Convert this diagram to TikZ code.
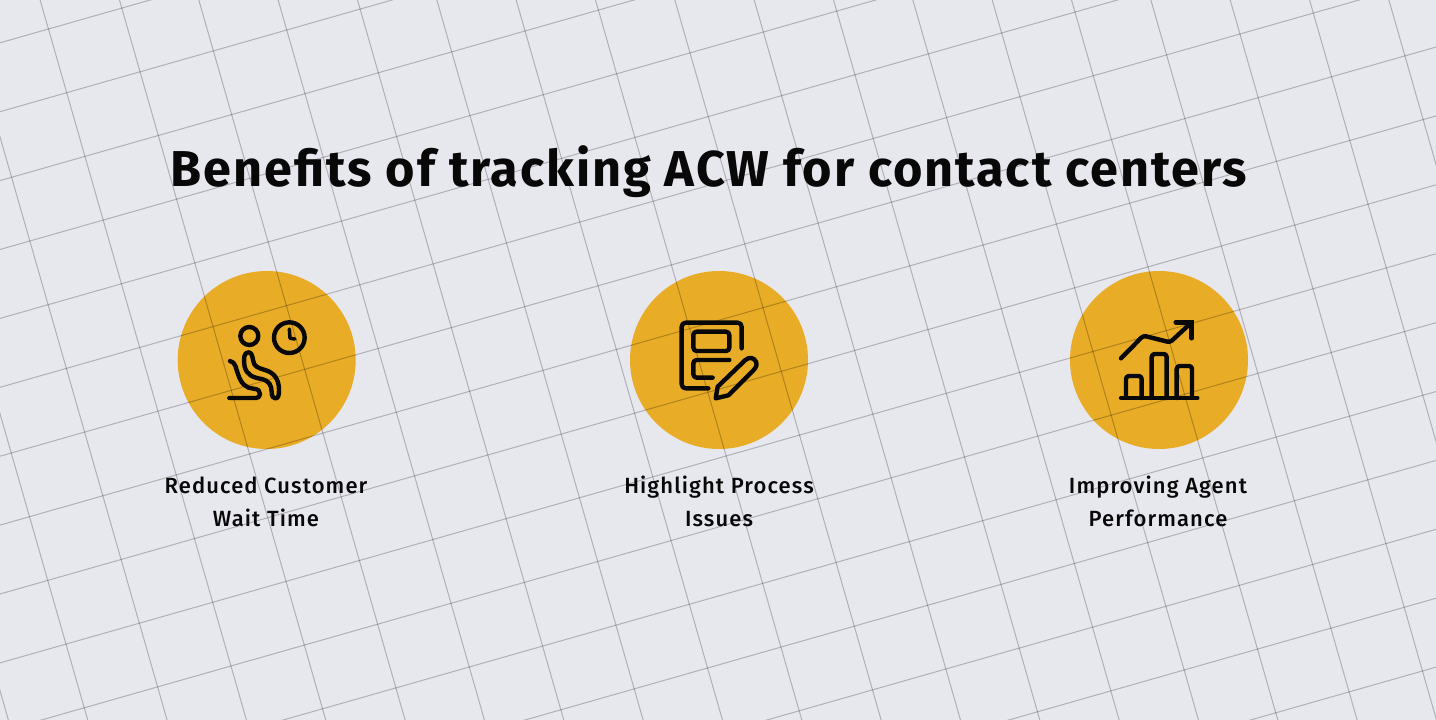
\documentclass[tikz,border=0pt]{standalone}
\usepackage{fontspec}
\setmainfont{Fira Sans}[LetterSpace=3.8]
\newfontfamily\labfont{Fira Sans Medium}[LetterSpace=5]
\definecolor{ink}{RGB}{8,8,8}
\definecolor{bgpaper}{RGB}{231,231,238}
\definecolor{disc}{RGB}{232,172,38}
\tikzset{
  discnode/.style={circle,fill=disc,draw=none,minimum size=178*0.75pt,inner sep=0pt},
  gridline/.style={black,opacity=.24,line width=.75pt},
  iconline/.style={ink,line width=3.3pt,line cap=round,line join=round,fill=none},
  titlenode/.style={font=\fontsize{37.8pt}{45pt}\selectfont\bfseries,text=ink,inner sep=0pt,anchor=base},
  labelnode/.style={font=\labfont\fontsize{16.5pt}{24.75pt}\selectfont,text=ink,align=center,inner sep=0pt,anchor=base},
  zoomed/.style={x=.25pt,y=-.25pt}
}
\begin{document}
\begin{tikzpicture}[x=.75pt,y=-.75pt]
\useasboundingbox (0,0) rectangle (1436,720);
\fill[bgpaper] (0,0) rectangle (1436,720);
\node[discnode] (d1) at (266.7,360) {};
\node[discnode] (d2) at (719,360) {};
\node[discnode] (d3) at (1159,360) {};
\begin{scope}
\clip (0,0) rectangle (1436,720);
\foreach \k in {-10,...,20}{
  \pgfmathsetmacro{\ax}{66.7+\k*18.25-15*73.35}
  \pgfmathsetmacro{\ay}{92.7+\k*63.7+15*20.9}
  \pgfmathsetmacro{\bx}{66.7+\k*18.25+35*73.35}
  \pgfmathsetmacro{\by}{92.7+\k*63.7-35*20.9}
  \draw[gridline] (\ax,\ay) -- (\bx,\by);
}
\foreach \k in {-15,...,35}{
  \pgfmathsetmacro{\ax}{66.7+\k*73.35-15*18.25}
  \pgfmathsetmacro{\ay}{92.7-\k*20.9-15*63.7}
  \pgfmathsetmacro{\bx}{66.7+\k*73.35+25*18.25}
  \pgfmathsetmacro{\by}{92.7-\k*20.9+25*63.7}
  \draw[gridline] (\ax,\ay) -- (\bx,\by);
}
\end{scope}
% icon 1
\begin{scope}[shift={(170,265)},zoomed]
\draw[iconline] (238,213) circle[radius=27];
\draw[iconline] (358,218) circle[radius=46];
\draw[iconline,line width=2.6pt] (358,192) -- (360,220) -- (375,222);
\draw[iconline] (180,288) .. controls (198,290) and (198,315) .. (205,330)
  .. controls (213,355) and (228,370) .. (250,371) .. controls (265,372) and (270,378) .. (270,387)
  .. controls (270,395) and (265,399) .. (258,399) -- (178,399);
\draw[iconline] (235,262) .. controls (222,262) and (220,280) .. (224,305)
  .. controls (230,330) and (250,338) .. (275,342) .. controls (298,348) and (304,360) .. (305,380)
  .. controls (305,395) and (310,400) .. (316,400) .. controls (325,400) and (327,392) .. (327,375)
  .. controls (327,340) and (310,322) .. (285,315) .. controls (262,308) and (252,305) .. (249,285)
  .. controls (247,270) and (243,262) .. (235,262) -- cycle;
\end{scope}
% icon 2
\begin{scope}[shift={(620,265)},zoomed]
\draw[iconline,rounded corners=3pt] (265,370) -- (185,370) -- (185,173) -- (365,173) -- (365,250);
\draw[iconline,rounded corners=2.5pt] (220,200) rectangle (328,258);
\draw[iconline,rounded corners=2.5pt] (328,285) -- (220,285) -- (220,338) -- (278,338);
\draw[iconline] (287,400) -- (293,365) -- (375,286) .. controls (388,274) and (402,278) .. (408,290)
  .. controls (412,300) and (408,308) .. (400,316) -- (325,391) -- cycle;
\end{scope}
% icon 3
\begin{scope}[shift={(1060,265)},zoomed]
\draw[iconline] (183,399) -- (412,399);
\draw[iconline,rounded corners=2.2pt] (198,399) -- (198,333) -- (245,333) -- (245,399);
\draw[iconline,rounded corners=2.2pt] (275,399) -- (275,267) -- (320,267) -- (320,399);
\draw[iconline,rounded corners=2.2pt] (350,399) -- (350,303) -- (396,303) -- (396,399);
\draw[iconline,rounded corners=2pt] (183,280) -- (250,212) -- (330,232) -- (395,172);
\draw[iconline,line join=miter] (347,172) -- (395,172) -- (395,220);
\end{scope}
\node[titlenode] (title) at (709,187) {Benefits of tracking ACW for contact centers};
\node[labelnode] (l1) at (266,526) {Reduced Customer\\Wait Time};
\node[labelnode] (l2) at (719,526) {Highlight Process\\Issues};
\node[labelnode] (l3) at (1158,526) {Improving Agent\\Performance};
\end{tikzpicture}
\end{document}
